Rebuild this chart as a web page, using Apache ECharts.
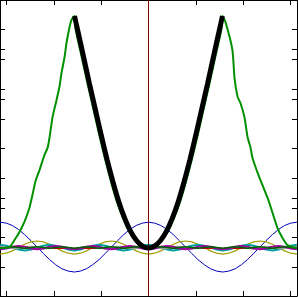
<!DOCTYPE html>
<html>
<head>
<meta charset="utf-8">
<script src="https://cdn.jsdelivr.net/npm/echarts@6/dist/echarts.min.js"></script>
<style>
  html, body { margin: 0; padding: 0; background: #fff; }
  #main { width: 298px; height: 297px; }
</style>
</head>
<body>
<div id="main"></div>
<script>
// sample positions shared by the harmonic curves
var xs = [-6.28,-6.02,-5.76,-5.50,-5.24,-4.97,-4.71,-4.45,-4.19,-3.93,-3.67,-3.40,-3.14,-2.88,-2.62,-2.36,-2.09,-1.83,-1.57,-1.31,-1.05,-0.79,-0.52,-0.26,
  0,0.26,0.52,0.79,1.05,1.31,1.57,1.83,2.09,2.36,2.62,2.88,3.14,3.40,3.67,3.93,4.19,4.45,4.71,4.97,5.24,5.50,5.76,6.02,6.28];

var blueY = [1.10,1.06,0.96,0.79,0.57,0.31,0.04,-0.23,-0.49,-0.71,-0.88,-0.98,-1.02,-0.98,-0.88,-0.71,-0.49,-0.23,0.04,0.31,0.57,0.79,0.96,1.06,
  1.10,1.06,0.96,0.79,0.57,0.31,0.04,-0.23,-0.49,-0.71,-0.88,-0.98,-1.02,-0.98,-0.88,-0.71,-0.49,-0.23,0.04,0.31,0.57,0.79,0.96,1.06,1.10];

var oliveY = [-0.26,-0.22,-0.12,0.02,0.16,0.26,0.30,0.26,0.16,0.02,-0.12,-0.22,-0.26,-0.22,-0.12,0.02,0.16,0.26,0.30,0.26,0.16,0.02,-0.12,-0.22,
  -0.26,-0.22,-0.12,0.02,0.16,0.26,0.30,0.26,0.16,0.02,-0.12,-0.22,-0.26,-0.22,-0.12,0.02,0.16,0.26,0.30,0.26,0.16,0.02,-0.12,-0.22,-0.26];

var cyanY = [0.14,0.10,0.02,-0.06,-0.10,-0.06,0.02,0.10, 0.14,0.10,0.02,-0.06,-0.10,-0.06,0.02,0.10, 0.14,0.10,0.02,-0.06,-0.10,-0.06,0.02,0.10,
  0.14,0.10,0.02,-0.06,-0.10,-0.06,0.02,0.10, 0.14,0.10,0.02,-0.06,-0.10,-0.06,0.02,0.10, 0.14,0.10,0.02,-0.06,-0.10,-0.06,0.02,0.10, 0.14];

var magentaY = [-0.05,-0.02,0.06,0.09,0.06,-0.02, -0.05,-0.02,0.06,0.09,0.06,-0.02, -0.05,-0.02,0.06,0.09,0.06,-0.02, -0.05,-0.02,0.06,0.09,0.06,-0.02,
  -0.05,-0.02,0.06,0.09,0.06,-0.02, -0.05,-0.02,0.06,0.09,0.06,-0.02, -0.05,-0.02,0.06,0.09,0.06,-0.02, -0.05,-0.02,0.06,0.09,0.06,-0.02, -0.05];

var grayY = [0.06,0.03,-0.01,-0.01,0.04,0.06,0.02,-0.02,0.00,0.05,0.05,0.01,-0.02,0.01,0.05,0.05,0.00,-0.02,0.02,0.06,0.04,-0.01,-0.01,0.03,
  0.06,0.03,-0.01,-0.01,0.04,0.06,0.02,-0.02,0.00,0.05,0.05,0.01,-0.02,0.01,0.05,0.05,0.00,-0.02,0.02,0.06,0.04,-0.01,-0.01,0.03,0.06];

var darkGreenY = [-0.01,0.02,0.05,0.02, -0.01,0.02,0.05,0.02, -0.01,0.02,0.05,0.02, -0.01,0.02,0.05,0.02, -0.01,0.02,0.05,0.02, -0.01,0.02,0.05,0.02,
  -0.01,0.02,0.05,0.02, -0.01,0.02,0.05,0.02, -0.01,0.02,0.05,0.02, -0.01,0.02,0.05,0.02, -0.01,0.02,0.05,0.02, -0.01,0.02,0.05,0.02, -0.01];

// thick black curve
var blackX = [-3.13,-3.00,-2.75,-2.50,-2.25,-2.00,-1.75,-1.50,-1.25,-1.00,-0.75,-0.50,-0.25,0,
  0.25,0.50,0.75,1.00,1.25,1.50,1.75,2.00,2.25,2.50,2.75,3.00,3.13];
var blackY = [9.87,9.28,8.15,7.00,5.90,4.80,3.75,2.80,1.95,1.25,0.70,0.31,0.08,0,
  0.08,0.31,0.70,1.25,1.95,2.80,3.75,4.80,5.90,7.00,8.15,9.28,9.87];

// green curve
var greenX = [-6.28,-5.88,-5.67,-5.46,-5.25,-5.04,-4.91,-4.78,-4.61,-4.40,-4.27,-4.19,-4.06,-3.89,-3.77,-3.68,-3.55,-3.47,-3.34,-3.26,
  -3.13,-3.08,-2.83,-2.58,-2.33,-2.08,-1.83,-1.58,-1.33,-1.07,-0.82,-0.56,-0.30,0,
  0.30,0.56,0.82,1.07,1.33,1.58,1.83,2.08,2.33,2.58,2.83,3.08,3.13,
  3.26,3.55,3.64,3.77,3.89,4.06,4.19,4.32,4.40,4.70,5.04,5.25,5.46,5.67,5.88,6.28];
var greenY = [0,0.04,0.34,0.68,1.11,1.70,2.26,2.85,3.32,3.96,4.26,4.68,5.57,6.30,6.85,7.45,8.13,8.72,9.40,9.70,
  9.87,9.28,8.15,7.00,5.90,4.80,3.75,2.80,1.95,1.25,0.70,0.31,0.08,0,
  0.08,0.31,0.70,1.25,1.95,2.80,3.75,4.80,5.90,7.00,8.15,9.28,9.87,
  9.60,8.43,7.23,6.43,6.17,5.57,4.72,4.26,3.83,2.98,2.13,1.49,0.85,0.43,0.13,0];

var xTicks = [-6, -4, -2, 2, 4, 6];
var yTicks = [9.32, 8.47, 8.04, 6.77, 6.34, 5.49, 4.26, 2.98, 2.13, 1.70, 0.47, -0.81];

function pairs(a, b) {
  return a.map(function (v, i) { return [v, b[i]]; });
}

var chart = echarts.init(document.getElementById('main'), null, { renderer: 'canvas' });

function xAxisOf(pos) {
  return {
    type: 'value', position: pos, min: -6.2832, max: 6.2832,
    axisLine: { show: true, onZero: false, lineStyle: { color: '#000', width: 1 } },
    axisTick: { show: true, inside: true, length: 5, customValues: xTicks, lineStyle: { color: '#000' } },
    axisLabel: { show: false },
    splitLine: { show: false }
  };
}
function yAxisOf(pos) {
  return {
    type: 'value', position: pos, min: -2.04, max: 10.55,
    axisLine: { show: true, onZero: false, lineStyle: { color: '#000', width: 1 } },
    axisTick: { show: true, inside: true, length: 5, customValues: yTicks, lineStyle: { color: '#000' } },
    axisLabel: { show: false },
    splitLine: { show: false }
  };
}

function line(data, color, width, z, smooth) {
  return {
    type: 'line', data: data, showSymbol: false, symbol: 'none', z: z,
    smooth: smooth || false,
    lineStyle: { color: color, width: width }, itemStyle: { color: color }
  };
}

var blackSeries = line(pairs(blackX, blackY), '#000000', 5, 10, 0.2);
blackSeries.markLine = {
  silent: true, symbol: 'none', label: { show: false },
  data: [
    { xAxis: 0, lineStyle: { color: '#800000', width: 1, type: 'solid' } },
    { yAxis: 0, lineStyle: { color: '#c00000', width: 1, type: 'solid' } }
  ]
};

chart.setOption({
  animation: false,
  backgroundColor: '#fff',
  grid: { left: 0, right: 1, top: 0, bottom: 1, containLabel: false, outerBoundsMode: 'none' },
  xAxis: [xAxisOf('bottom'), xAxisOf('top')],
  yAxis: [yAxisOf('left'), yAxisOf('right')],
  series: [
    line(pairs(xs, blueY), '#0000b8', 1, 2),
    line(pairs(xs, oliveY), '#a0a000', 1.2, 3),
    line(pairs(xs, cyanY), '#00a0a0', 2, 4),
    line(pairs(xs, grayY), '#a0a0a0', 2, 5),
    line(pairs(xs, magentaY), '#a000a0', 2, 6),
    line(pairs(xs, darkGreenY), '#006000', 1.5, 7),
    line(pairs(greenX, greenY), '#009000', 2, 8, 0.2),
    blackSeries
  ]
});
</script>
</body>
</html>
